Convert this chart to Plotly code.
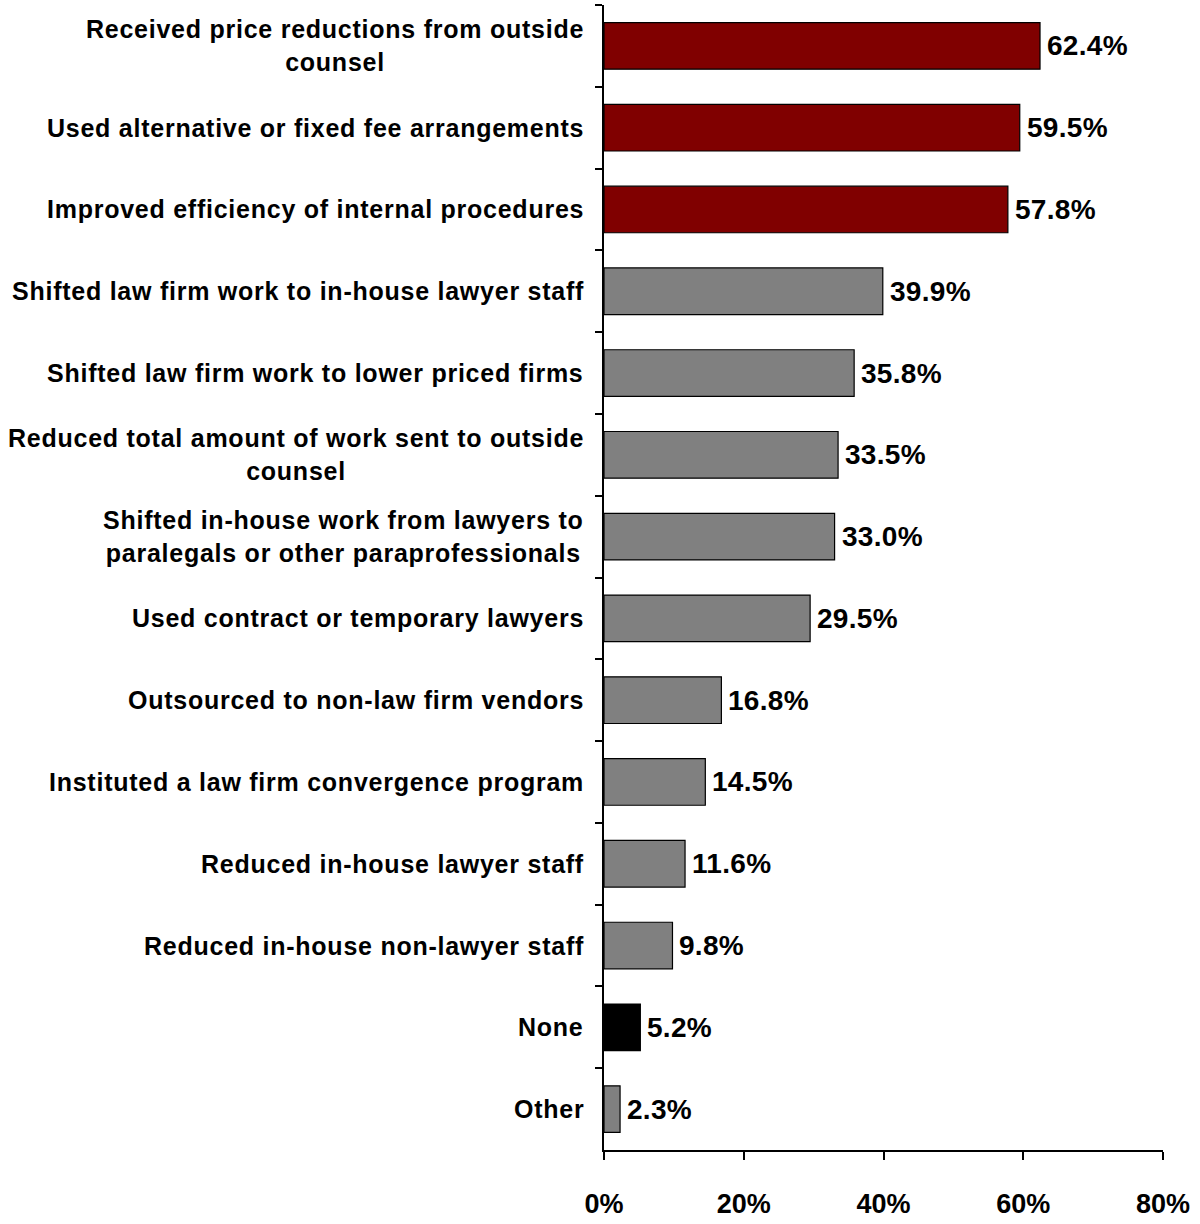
import plotly.graph_objects as go

# Cost-reduction measures and share of respondents (%)
measures = [
    "Received price reductions from outside<br>counsel",
    "Used alternative or fixed fee arrangements",
    "Improved efficiency of internal procedures",
    "Shifted law firm work to in-house lawyer staff",
    "Shifted law firm work to lower priced firms",
    "Reduced total amount of work sent to outside<br>counsel",
    "Shifted in-house work from lawyers to<br>paralegals or other paraprofessionals",
    "Used contract or temporary lawyers",
    "Outsourced to non-law firm vendors",
    "Instituted a law firm convergence program",
    "Reduced in-house lawyer staff",
    "Reduced in-house non-lawyer staff",
    "None",
    "Other",
]
shares = [62.4, 59.5, 57.8, 39.9, 35.8, 33.5, 33.0, 29.5, 16.8, 14.5, 11.6, 9.8, 5.2, 2.3]
bar_colors = ["#800000"] * 3 + ["#808080"] * 9 + ["#000000", "#808080"]
x_ticks = [0, 20, 40, 60, 80]
x_tick_labels = ["0%", "20%", "40%", "60%", "80%"]

FONT = "Liberation Sans, Arial, sans-serif"


def spaced(text, ls):
    # wrap each line in a span with extra letter spacing
    return "<br>".join(
        f'<span style="letter-spacing:{ls}px">{part}</span>' for part in text.split("<br>")
    )


fig = go.Figure(
    go.Bar(
        x=shares,
        y=measures,
        orientation="h",
        marker=dict(color=bar_colors, line=dict(color="#000000", width=1.2)),
        width=0.57,
        hoverinfo="skip",
    )
)

annotations = []
# category labels to the left of the axis, lines centred within each label
for m in measures:
    annotations.append(
        dict(
            x=0, xref="paper", y=m, yref="y",
            text=spaced(m, 0.75),
            xanchor="right", yanchor="middle", align="center",
            xshift=-18, showarrow=False,
            font=dict(family=FONT, size=25, color="#000000", weight="bold"),
        )
    )
# value labels at the end of each bar
for m, v in zip(measures, shares):
    annotations.append(
        dict(
            x=v, xref="x", y=m, yref="y",
            text=spaced(f"{v:.1f}%", 0.3),
            xanchor="left", yanchor="middle",
            xshift=5, showarrow=False,
            font=dict(family=FONT, size=28, color="#000000", weight="bold"),
        )
    )

fig.update_layout(
    width=1200,
    height=1224,
    margin=dict(l=604, r=37, t=5, b=66),
    paper_bgcolor="#ffffff",
    plot_bgcolor="#ffffff",
    showlegend=False,
    annotations=annotations,
    xaxis=dict(
        range=[0, 80],
        tickvals=x_ticks,
        ticktext=x_tick_labels,
        ticks="outside",
        ticklen=8,
        tickwidth=2,
        tickcolor="#000000",
        showline=True,
        linecolor="#000000",
        linewidth=2,
        showgrid=False,
        zeroline=False,
        ticklabelstandoff=21,
        tickfont=dict(family=FONT, size=27, color="#000000", weight="bold"),
    ),
    yaxis=dict(
        autorange="reversed",
        showticklabels=False,
        ticks="outside",
        tickson="boundaries",
        ticklen=7,
        tickwidth=2,
        tickcolor="#000000",
        showline=True,
        linecolor="#000000",
        linewidth=2,
        showgrid=False,
        zeroline=False,
    ),
)

fig.write_html("out.html")
